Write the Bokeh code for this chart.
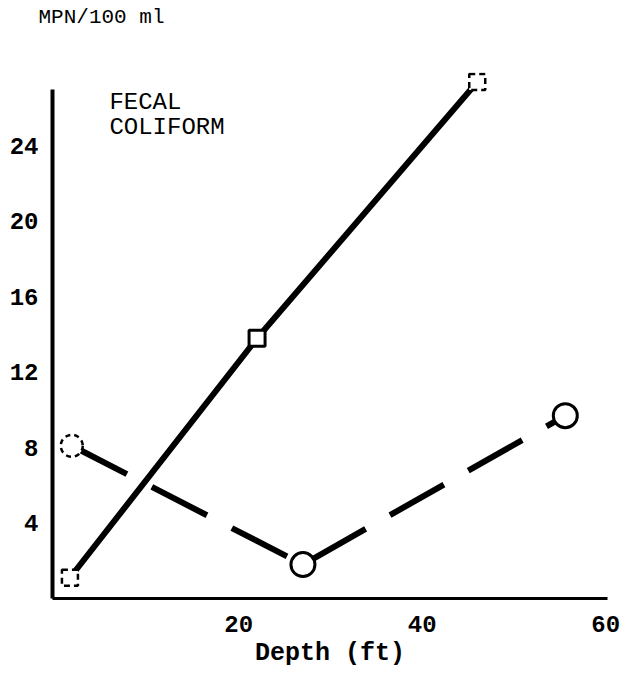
from bokeh.plotting import figure
from bokeh.models import FixedTicker, Label, Range1d, Title
from bokeh.embed import file_html
from bokeh.resources import INLINE

# Data
depth_solid = [1.6, 22.0, 46.0]
mpn_solid = [1.1, 13.8, 27.4]
depth_dashed = [1.8, 27.0, 55.6]
mpn_dashed = [8.1, 1.8, 9.7]
x_ticks = [20, 40, 60]
y_ticks = [4, 8, 12, 16, 20, 24]
unit_label = "MPN/100 ml"

FONT = "Liberation Mono"

p = figure(title=None, frame_width=555, frame_height=526,
           min_border_left=52, min_border_right=13,
           min_border_top=71, min_border_bottom=68,
           x_range=Range1d(-0.3, 60.2), y_range=Range1d(0, 27.9),
           output_backend="svg", toolbar_location=None)

p.grid.visible = False
p.outline_line_color = None
p.background_fill_color = "white"
p.border_fill_color = "white"

# y-axis unit label as a left-aligned title, pushed up by an empty line
t = Title(text=unit_label + "\n ", align="left", offset=-14,
          text_font=FONT, text_font_size="21px", text_font_style="normal",
          text_color="black", vertical_align="top", text_line_height=1.6)
p.add_layout(t, "above")

for ax in (p.xaxis[0], p.yaxis[0]):
    ax.major_tick_line_color = None
    ax.minor_tick_line_color = None
    ax.axis_line_color = "black"
    ax.major_label_text_font = FONT
    ax.major_label_text_font_size = "24px"
    ax.major_label_text_font_style = "bold"
    ax.major_label_text_color = "black"

p.xaxis.ticker = FixedTicker(ticks=x_ticks)
p.yaxis.ticker = FixedTicker(ticks=y_ticks)
p.xaxis.axis_line_width = 3
p.yaxis.axis_line_width = 4
p.yaxis.bounds = (0, 27.0)
p.xaxis.major_label_standoff = 11
p.yaxis.major_label_standoff = 8

p.xaxis.axis_label = "Depth (ft)"
p.xaxis.axis_label_text_font = FONT
p.xaxis.axis_label_text_font_size = "25px"
p.xaxis.axis_label_text_font_style = "bold"
p.xaxis.axis_label_text_color = "black"
p.xaxis.axis_label_standoff = 4

# lines
p.line(depth_solid, mpn_solid, line_color="black", line_width=6)
p.line(depth_dashed, mpn_dashed, line_color="black", line_width=6,
       line_dash="62 28")

# markers (faint, broken ones drawn dashed)
p.scatter(depth_solid[0::2], mpn_solid[0::2], marker="square", size=16,
          fill_color="white", line_color="black", line_width=2.5,
          line_dash="6 4")
p.scatter(depth_solid[1:2], mpn_solid[1:2], marker="square", size=16,
          fill_color="white", line_color="black", line_width=3)
p.scatter(depth_dashed[0:1], mpn_dashed[0:1], marker="circle", size=22,
          fill_color="white", line_color="black", line_width=2.5,
          line_dash="5 4")
p.scatter(depth_dashed[1:], mpn_dashed[1:], marker="circle", size=24,
          fill_color="white", line_color="black", line_width=3)

# texts
p.add_layout(Label(x=5.9, y=26.3, text="FECAL", text_font=FONT,
                   text_font_size="24px", text_baseline="middle",
                   text_color="black"))
p.add_layout(Label(x=5.9, y=25.0, text="COLIFORM", text_font=FONT,
                   text_font_size="24px", text_baseline="middle",
                   text_color="black"))

open("out.html", "w").write(file_html(p, INLINE))
